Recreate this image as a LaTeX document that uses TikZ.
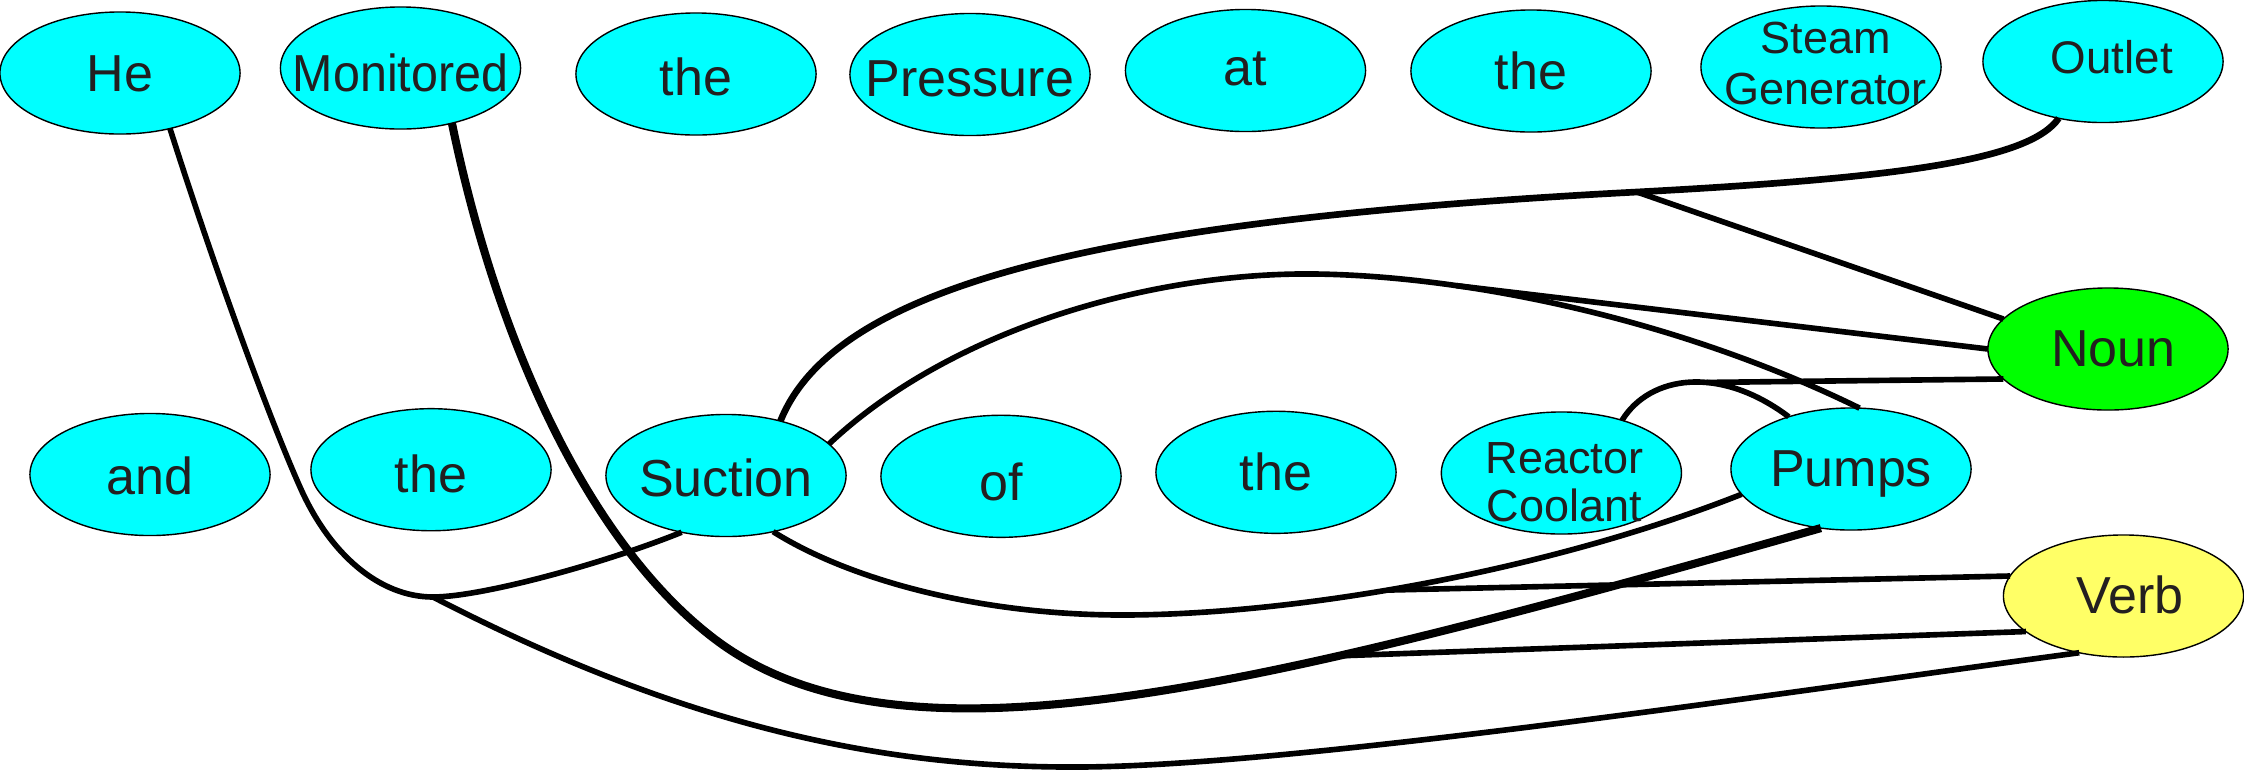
\documentclass[tikz,border=0pt]{standalone}
\usepackage{fontspec}
\setmainfont{Liberation Sans}
\usepackage{graphicx}
\usetikzlibrary{shapes.geometric}
\definecolor{wordcyan}{HTML}{00FFFF}
\definecolor{nouncol}{HTML}{00FF00}
\definecolor{verbcol}{HTML}{FFFF66}
\definecolor{inkcol}{HTML}{231F20}
% #1: kern (twice the rightward shift), #2: baseline offset from the centre, #3: text
\newcommand{\wt}[3][0pt]{\raisebox{#2}[0pt][0pt]{\makebox[0pt]{\kern#1\relax #3}}}
% #1 kern, #2 first baseline offset, #3 line distance, #4/#5 lines
\newcommand{\wtwo}[5]{\raisebox{#2}[0pt][0pt]{\makebox[0pt]{\kern#1\relax
  \fontsize{12.8pt}{#3}\selectfont\begin{tabular}[t]{@{}c@{}}#4\\#5\end{tabular}}}}
\begin{document}
\begin{tikzpicture}[x=0.01cm, y=-0.01cm,
  word/.style={ellipse, draw=black, line width=0.4pt, fill=wordcyan,
    minimum width=2.4cm, minimum height=1.22cm, inner xsep=0pt, inner ysep=0pt,
    outer sep=0pt, text=inkcol, font=\fontsize{14.8pt}{17pt}\selectfont},
  noun/.style={word, fill=nouncol},
  verb/.style={word, fill=verbcol},
  link/.style={line width=1.6pt, draw=black},
  heavy/.style={line width=2.3pt, draw=black},
  upper/.style={line width=1.9pt, draw=black}]
\useasboundingbox (0,0) rectangle (2244,772);
% words, top row
\node[word] (He) at (120,73) {\wt{-5.3pt}{He}};
\node[word] (Monitored) at (400.5,68) {\wt{-6.6pt}{\scalebox{0.93}[1]{Monitored}}};
\node[word] (the1) at (696,74) {\wt{-6.0pt}{the}};
\node[word] (Pressure) at (970,74.5) {\wt{-6.3pt}{Pressure}};
\node[word] (at) at (1245.5,70.5) {\wt{-4.3pt}{at}};
\node[word] (the2) at (1531,71) {\wt{-5.4pt}{the}};
\node[word] (SG) at (1821,67) {\wtwo{2.6pt}{3.9pt}{14.6pt}{Steam}{Generator}};
\node[word] (Outlet) at (2103,61.5) {\wt[5pt]{-3.4pt}{\fontsize{13pt}{15pt}\selectfont Outlet}};
% words, bottom row
\node[word] (and) at (150,474.5) {\wt{-5.8pt}{and}};
\node[word] (the3) at (431,469.7) {\wt{-6.4pt}{the}};
\node[word] (Suction) at (726,475.5) {\wt{-6.0pt}{Suction}};
\node[word] (of) at (1001,476.3) {\wt{-7.0pt}{of}};
\node[word] (the4) at (1276,472.3) {\wt{-5.1pt}{the}};
\node[word] (RC) at (1561.4,473) {\wtwo{1.7pt}{0pt}{13.8pt}{Reactor}{Coolant}};
\node[word] (Pumps) at (1851,469) {\wt{-5.0pt}{Pumps}};
% categories
\node[noun] (Noun) at (2108,349) {\wt[3.1pt]{-5.0pt}{Noun}};
\node[verb] (Verb) at (2123.5,596) {\wt[3.7pt]{-4.9pt}{Verb}};
% He -> Suction, with branch to Verb
\draw[link] (He.-48) .. controls (215,270) and (270,420) .. (300,487)
  .. controls (330,555) and (380,597) .. (433,597) coordinate (jHe)
  .. controls (480,597) and (600,565) .. (Suction.-128);
\draw[link] (jHe) .. controls (700,735) and (900,768) .. (1080,767)
  .. controls (1300,766) and (1800,690) .. (Verb.-128);
% Monitored -> Pumps, with branch to Verb
\draw[heavy] (Monitored.-47) .. controls (502,365) and (600,553) .. (716,640)
  .. controls (900,778) and (1250,690) .. (Pumps.-117) coordinate[pos=0.68] (jMon);
\draw[link] (jMon) -- (Verb.-160);
% Suction -> Pumps (below), with branch to Verb
\draw[link] (Suction.-50) .. controls (850,580) and (980,615) .. (1122,615)
  .. controls (1300,615) and (1550,570) .. (Pumps.-167) coordinate[pos=0.44] (jSuc);
\draw[link] (jSuc) -- (Verb.170);
% Suction -> Outlet, with branch to Noun
\draw[upper] (Suction.45) .. controls (835,285) and (1100,220) .. (1637,192) coordinate (jOut)
  .. controls (1900,178) and (2030,160) .. (Outlet.-128);
\draw[link] (jOut) -- (Noun.164);
% Suction -> Pumps (above), with branch to Noun
\draw[link] (Suction.17) .. controls (950,330) and (1150,272) .. (1315,274)
  .. controls (1470,276) and (1680,320) .. (Pumps.82) coordinate[pos=0.28] (jPum);
\draw[link] (jPum) -- (Noun.180);
% Reactor Coolant -> Pumps, with branch to Noun
\draw[link] (RC.41) .. controls (1650,375) and (1720,365) .. (Pumps.140) coordinate[pos=0.59] (jRC);
\draw[link] (jRC) -- (Noun.-164);
\end{tikzpicture}
\end{document}
